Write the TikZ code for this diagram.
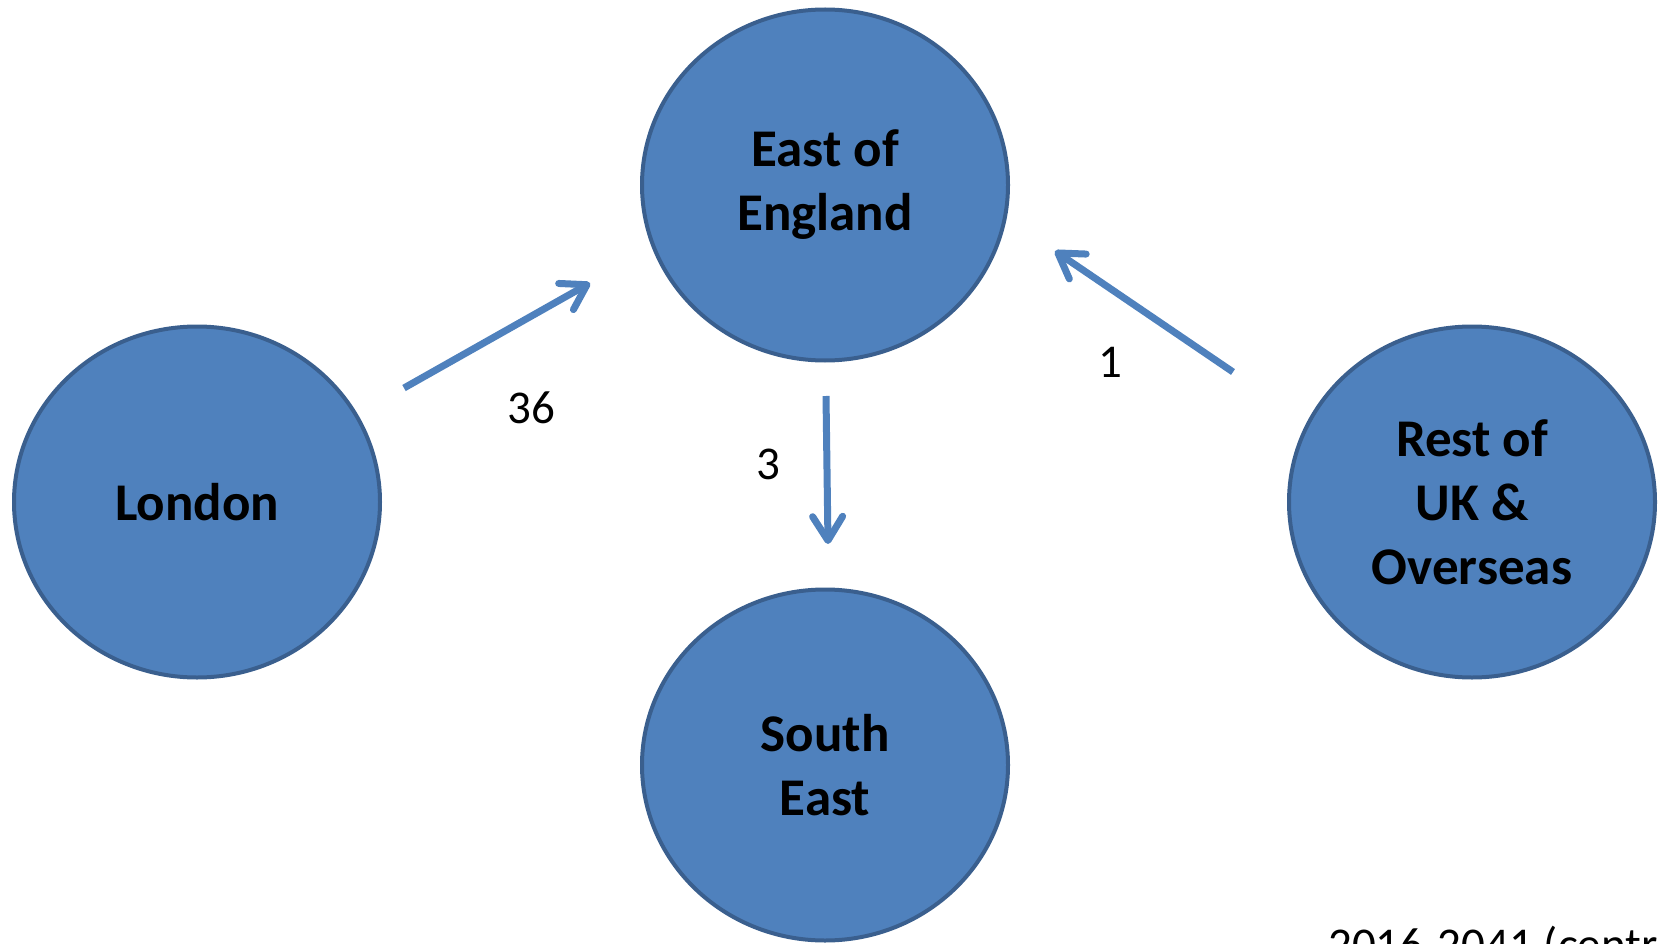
\documentclass[tikz,border=0pt]{standalone}
\usepackage{fontspec}
\setmainfont{Carlito}
\usetikzlibrary{shapes.geometric,arrows.meta}
\definecolor{fillblue}{HTML}{4F81BD}
\definecolor{edgeblue}{HTML}{3A5F8E}
\tikzset{
  region/.style={ellipse, draw=edgeblue, fill=fillblue, line width=4pt,
    minimum width=366pt, minimum height=351pt, inner sep=0pt, align=center,
    font=\fontsize{53}{64}\selectfont\bfseries, text=black},
  flow/.style={draw=fillblue, line width=7pt,
    -{Straight Barb[length=24pt,width=30pt,round]}},
  flowlabel/.style={font=\fontsize{47}{56}\selectfont, text=black, inner sep=0pt}
}
\begin{document}
\begin{tikzpicture}[x=1pt,y=-1pt]
\clip (0,0) rectangle (1659,944);
\useasboundingbox (0,0) rectangle (1659,944);
\node[region] (east) at (825,185) {East of\\England};
\node[region] (london) at (197,502) {London};
\node[region] (southeast) at (825,765) {South\\East};
\node[region] (rest) at (1472,502) {Rest of\\UK \&\\Overseas};
\coordinate (lstart) at (404,388);
\coordinate (lend) at (590,283);
\coordinate (sstart) at (826,396);
\coordinate (send) at (828,544);
\coordinate (rstart) at (1233,372);
\coordinate (rend) at (1055,251);
\draw[flow] (lstart) -- (lend);
\draw[flow] (sstart) -- (send);
\draw[flow] (rstart) -- (rend);
\node[flowlabel] (l36) at (531,408) {36};
\node[flowlabel] (l3) at (768,464) {3};
\node[flowlabel] (l1) at (1110,362) {1};
\node[flowlabel, anchor=base west] (period) at (1328,960) {2016-2041 (centr};
\end{tikzpicture}
\end{document}
